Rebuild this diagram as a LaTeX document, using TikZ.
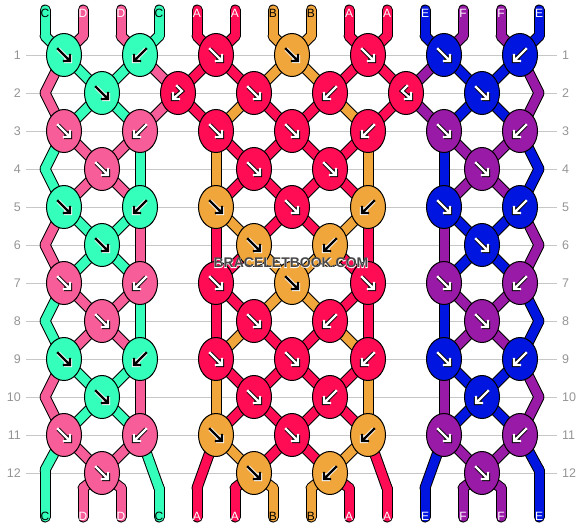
\documentclass[tikz,border=0pt]{standalone}
\usepackage{fontspec}
\setmainfont{Liberation Sans}
\newfontfamily\haloface[FakeBold=4]{Liberation Sans Bold}
\usetikzlibrary{shapes.geometric}

\definecolor{colA}{RGB}{255,12,84}
\definecolor{colB}{RGB}{241,166,59}
\definecolor{colC}{RGB}{52,255,187}
\definecolor{colD}{RGB}{247,93,152}
\definecolor{colE}{RGB}{0,22,224}
\definecolor{colF}{RGB}{152,26,166}
\colorlet{arrA}{white}\colorlet{rimA}{black}
\colorlet{arrB}{black}\colorlet{rimB}{white}
\colorlet{arrC}{black}\colorlet{rimC}{white}
\colorlet{arrD}{white}\colorlet{rimD}{black}
\colorlet{arrE}{white}\colorlet{rimE}{black}
\colorlet{arrF}{white}\colorlet{rimF}{black}

\newcommand\wirerows{0/{C,D,D,C,A,A,B,B,A,A,E,F,F,E},
1/{D,C,C,D,A,A,B,B,A,A,F,E,E,F},
2/{D,C,C,D,A,B,A,A,B,A,F,E,E,F},
3/{C,D,D,C,B,A,A,A,A,B,E,F,F,E},
4/{C,D,D,C,B,A,A,A,A,B,E,F,F,E},
5/{D,C,C,D,A,B,A,A,B,A,F,E,E,F},
6/{D,C,C,D,A,A,B,B,A,A,F,E,E,F},
7/{C,D,D,C,A,A,B,B,A,A,E,F,F,E},
8/{C,D,D,C,A,B,A,A,B,A,E,F,F,E},
9/{D,C,C,D,B,A,A,A,A,B,F,E,E,F},
10/{D,C,C,D,B,A,A,A,A,B,F,E,E,F},
11/{C,D,D,C,A,B,A,A,B,A,E,F,F,E},
12/{C,D,D,C,A,A,B,B,A,A,E,F,F,E}}

\tikzset{
  knot/.style={ellipse, draw=black, line width=1pt, minimum width=35pt, minimum height=43pt, inner sep=0pt},
  wire/.style={line cap=round, line join=round},
  rule/.style={draw=black!22, line width=1pt},
  rowno/.style={text=black!42, font=\fontsize{12.5}{14}\selectfont, inner sep=0pt},
  tag/.style={font=\fontsize{12}{13}\selectfont, inner sep=0pt},
  stamp/.style={font=\bfseries\fontsize{14}{16}\selectfont, inner sep=0pt},
  pen/.style={line width=2.2pt, line cap=rect, draw=arr\cl, preaction={draw=rim\cl, line width=4.2pt}},
  pics/f/.style={code={\draw[pen] (-6,-6) -- (5,5) (6,0) -- (6,6) -- (0,6);}},
  pics/b/.style={code={\draw[pen] (6,-6) -- (-5,5) (-6,0) -- (-6,6) -- (0,6);}},
  pics/fb/.style={code={\draw[pen] (-1,-7) -- (4,-2) -- (-4,5) (-5,0) -- (-5,6) -- (1,6);}},
  pics/bf/.style={code={\draw[pen] (1,-7) -- (-4,-2) -- (4,5) (5,0) -- (5,6) -- (-1,6);}},
}

\begin{document}
\begin{tikzpicture}[x=1pt,y=-1pt]
\useasboundingbox (0,0) rectangle (582,528);
\foreach \rw in {1,...,12}{
  \node[rowno, anchor=east] (ln-\rw) at (21,17+38*\rw) {\rw};
  \node[rowno, anchor=west] (rn-\rw) at (562,17+38*\rw) {\rw};
  \draw[rule] ([xshift=5pt]ln-\rw.east) -- ([xshift=-5pt]rn-\rw.west);
}
\foreach \x [count=\ps from 0] in {45,83,...,539}{
  \coordinate (top-\ps) at (\x,10);
  \coordinate (s-0-\ps) at (\x,36);
  \coordinate (s-13-\ps) at (\x,488);
  \coordinate (bot-\ps) at (\x,517);
}
\foreach \rw in {1,3,...,11}
  \foreach \x [count=\ps from 0] in {64,64,140,140,216,216,292,292,368,368,444,444,520,520}
    \coordinate (s-\rw-\ps) at (\x,17+38*\rw);
\foreach \x [count=\ps from 0] in {45,102,102,178,178,254,254,330,330,406,406,482,482,539}
  \coordinate (s-2-\ps) at (\x,93);
\foreach \rw in {4,6,8,10}
  \foreach \x [count=\ps from 0] in {45,102,102,140,216,254,254,330,330,368,444,482,482,539}
    \coordinate (s-\rw-\ps) at (\x,17+38*\rw);
\foreach \x/\y [count=\ps from 0] in {45/470,102/473,102/473,159/488,197/488,254/473,254/473,330/473,330/473,387/488,425/488,482/473,482/473,539/470}
  \coordinate (s-12-\ps) at (\x,\y);
% strings
\foreach \rw/\cs in \wirerows {
  \pgfmathtruncatemacro\nx{\rw+1}
  \foreach \cl [count=\ps from 0] in \cs {
    \draw[wire, line width=11pt] (s-\rw-\ps) -- (s-\nx-\ps);
    \ifnum\rw=0 \draw[wire, line width=11pt] (top-\ps) -- (s-0-\ps);\fi
    \ifnum\rw=12 \draw[wire, line width=11pt] (s-13-\ps) -- (bot-\ps);\fi
  }
}
\foreach \rw/\cs in \wirerows {
  \pgfmathtruncatemacro\nx{\rw+1}
  \foreach \cl [count=\ps from 0] in \cs {
    \draw[wire, line width=9pt, draw=col\cl] (s-\rw-\ps) -- (s-\nx-\ps);
    \ifnum\rw=0 \draw[wire, line width=9pt, draw=col\cl] (top-\ps) -- (s-0-\ps);\fi
    \ifnum\rw=12 \draw[wire, line width=9pt, draw=col\cl] (s-13-\ps) -- (bot-\ps);\fi
  }
}
% knots
\foreach \rw/\ks in {1/{64/C/f,140/C/b,216/A/f,292/B/f,368/A/f,444/E/f,520/E/b},
  2/{102/C/f,178/A/fb,254/A/f,330/A/b,406/A/bf,482/E/f},
  3/{64/D/f,140/D/b,216/A/f,292/A/f,368/A/b,444/F/f,520/F/b},
  4/{102/D/f,254/A/f,330/A/f,482/F/f},
  5/{64/C/f,140/C/b,216/B/f,292/A/f,368/B/b,444/E/f,520/E/b},
  6/{102/C/f,254/B/f,330/B/b,482/E/f},
  7/{64/D/f,140/D/b,216/A/f,292/B/f,368/A/f,444/F/f,520/F/b},
  8/{102/D/f,254/A/f,330/A/b,482/F/f},
  9/{64/C/f,140/C/b,216/A/f,292/A/f,368/A/b,444/E/f,520/E/b},
  10/{102/C/f,254/A/f,330/A/b,482/E/b},
  11/{64/D/f,140/D/b,216/B/f,292/A/f,368/B/b,444/F/f,520/F/b},
  12/{102/D/f,254/B/f,330/B/b,482/F/f}}
  \foreach \x/\cl/\kt in \ks {
    \node[knot, fill=col\cl] (k-\rw-\x) at (\x,17+38*\rw) {};
    \pic at (k-\rw-\x) {\kt};
  }
% ends
\foreach \cl [count=\ps from 0] in {C,D,D,C,A,A,B,B,A,A,E,F,F,E}{
  \node[tag, text=arr\cl] (tl-\ps) at ([yshift=-3pt]top-\ps) {\cl};
  \node[tag, text=arr\cl] (bl-\ps) at ([yshift=1pt]bot-\ps) {\cl};
}
\node[stamp, font=\haloface\fontsize{14}{16}\selectfont, text=white] (halo) at (291,263) {BRACELETBOOK.COM};
\node[stamp, text=black!72] (mark) at (halo) {BRACELETBOOK.COM};
\end{tikzpicture}
\end{document}
